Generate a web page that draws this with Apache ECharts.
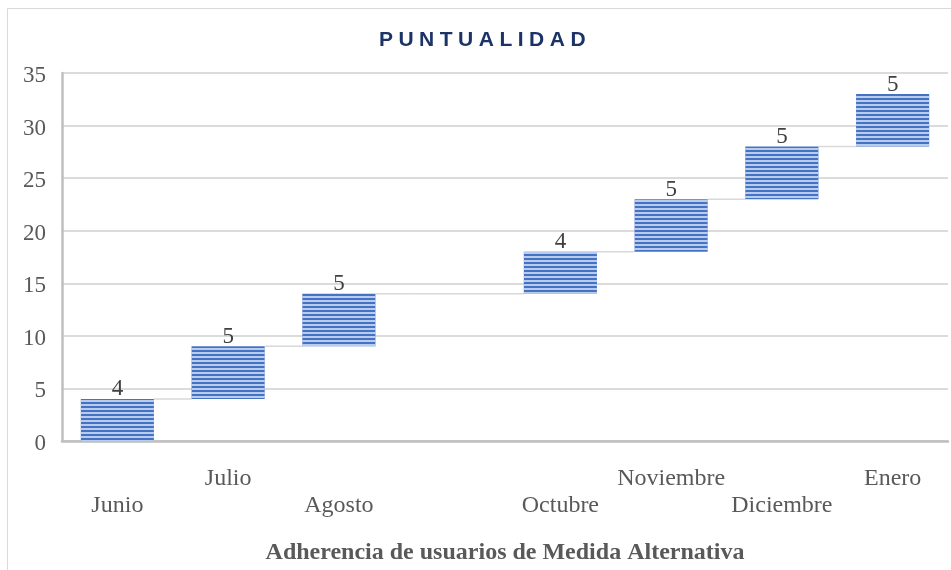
<!DOCTYPE html>
<html>
<head>
<meta charset="utf-8">
<script src="https://cdn.jsdelivr.net/npm/echarts@6/dist/echarts.min.js"></script>
<style>
html,body{margin:0;padding:0;background:#fff;}
#chart{width:951px;height:570px;}
</style>
</head>
<body>
<div id="chart"></div>
<script>
const categories = ['Junio', 'Julio', 'Agosto', '', 'Octubre', 'Noviembre', 'Diciembre', 'Enero'];
const increments = [4, 5, 5, 0, 4, 5, 5, 5];
const yTicks = [0, 5, 10, 15, 20, 25, 30, 35];

// waterfall bases derived from the increments
const bases = [];
const ends = [];
let acc = 0;
increments.forEach(v => { bases.push(acc); acc += v; ends.push(acc); });

// letter spacing for the spaced-out title (text drawn in Arial only)
(function () {
  const proto = CanvasRenderingContext2D.prototype;
  const orig = proto.fillText;
  proto.fillText = function (t, x, y, m) {
    if ('letterSpacing' in this) {
      this.letterSpacing = this.font.indexOf('Arial') >= 0 ? '5.5px' : '0px';
    }
    return m === undefined ? orig.call(this, t, x, y) : orig.call(this, t, x, y, m);
  };
})();

const chart = echarts.init(document.getElementById('chart'), null, {renderer: 'canvas'});
const serif = '"Liberation Serif", "Times New Roman", serif';

chart.setOption({
  animation: false,
  backgroundColor: '#fff',
  title: {
    text: 'PUNTUALIDAD',
    left: 480, top: 25, textAlign: 'center',
    textStyle: {fontFamily: 'Arial', fontWeight: 'bold', fontSize: 21, color: '#1B3366'}
  },
  graphic: [{
    type: 'rect', shape: {x: 7.5, y: 8.5, width: 960, height: 580},
    style: {fill: 'none', stroke: '#D9D9D9', lineWidth: 1}, silent: true, z: -10
  }],
  grid: {left: 62, right: 3, top: 73, bottom: 127},
  xAxis: {
    type: 'category',
    data: categories,
    axisLine: {show: true, lineStyle: {color: '#BFBFBF', width: 2.5}},
    axisTick: {show: false},
    axisLabel: {
      interval: 0, margin: 24, fontFamily: serif, fontSize: 24, color: '#595959', lineHeight: 27,
      formatter: (v, i) => (i % 2 === 0 ? '\n' + v : v)
    },
    name: 'Adherencia de usuarios de Medida Alternativa',
    nameLocation: 'middle', nameGap: 100,
    nameTextStyle: {fontFamily: serif, fontWeight: 'bold', fontSize: 24, color: '#595959'}
  },
  yAxis: {
    type: 'value', min: yTicks[0], max: yTicks[yTicks.length - 1], interval: 5,
    axisLine: {show: true, lineStyle: {color: '#BFBFBF', width: 2.5}},
    axisTick: {show: false},
    axisLabel: {
      margin: 16, fontFamily: serif, fontSize: 23, color: '#595959',
      formatter: v => '{v|' + v + '}',
      rich: {v: {fontFamily: serif, fontSize: 23, color: '#595959', padding: [6, 0, 0, 0]}}
    },
    splitLine: {lineStyle: {color: '#CFCFCF', width: 1.5}}
  },
  series: [
    {
      type: 'custom',
      name: 'conector',
      z: 1,
      silent: true,
      data: ends.map((e, i) => [i, e, increments[i]]),
      renderItem: function (params, api) {
        const i = api.value(0);
        if (i >= categories.length - 1) return null;
        const y = api.value(1);
        const inc = api.value(2);
        const band = api.size([1, 0])[0];
        const half = band * 0.33;
        const p1 = api.coord([i, y]);
        const p2 = api.coord([i + 1, y]);
        const x1 = inc > 0 ? p1[0] + half : p1[0] - half;
        return {
          type: 'line',
          shape: {x1: x1, y1: p1[1], x2: p2[0] - half, y2: p2[1]},
          style: {stroke: '#D9D9D9', lineWidth: 1.5}
        };
      }
    },
    {
      type: 'bar', stack: 'w', name: 'base',
      data: bases,
      barWidth: '66%',
      itemStyle: {color: 'transparent'},
      emphasis: {disabled: true}, silent: true, z: 2
    },
    {
      type: 'bar', stack: 'w', name: 'valor',
      data: increments.map(v => (v > 0 ? v : '-')),
      barWidth: '66%',
      z: 3,
      itemStyle: {
        color: '#4472C4',
        decal: {
          symbol: 'rect', symbolSize: 1,
          dashArrayX: [1, 0], dashArrayY: [2, 2],
          rotation: 0, color: 'rgba(215,226,246,0.8)'
        }
      },
      label: {
        show: true, position: 'top', distance: -2,
        fontFamily: serif, fontSize: 23, color: '#404040',
        formatter: p => (p.value > 0 ? String(p.value) : '')
      }
    }
  ]
});
</script>
</body>
</html>
